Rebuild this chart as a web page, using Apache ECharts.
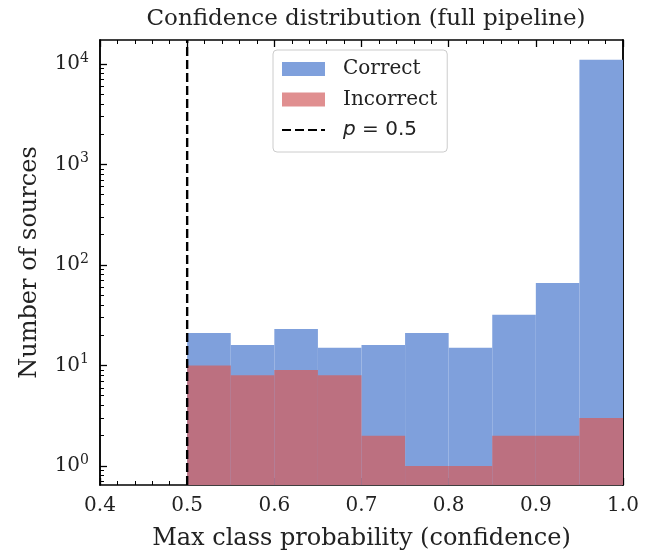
<!DOCTYPE html>
<html>
<head>
<meta charset="utf-8">
<script src="https://cdn.jsdelivr.net/npm/echarts@6/dist/echarts.min.js"></script>
<style>
  html, body { margin: 0; padding: 0; background: #fff; }
  #main { width: 654px; height: 551px; }
</style>
</head>
<body>
<div id="main"></div>
<script>
// histogram bins (confidence), 0.05 wide
const binEdges = [0.5, 0.55, 0.6, 0.65, 0.7, 0.75, 0.8, 0.85, 0.9, 0.95, 1.0];
const correctCounts = [21, 16, 23, 15, 16, 21, 15, 32, 66, 11000];
const incorrectCounts = [10, 8, 9, 8, 2, 1, 1, 2, 2, 3];
const threshold = 0.5;
const yMajorTicks = [1, 10, 100, 1000, 10000];
const yMinorTicks = [0.7, 0.8, 0.9, 2, 3, 4, 5, 6, 7, 8, 9, 20, 30, 40, 50, 60, 70, 80, 90,
  200, 300, 400, 500, 600, 700, 800, 900, 2000, 3000, 4000, 5000, 6000, 7000, 8000, 9000];

const X_MIN = 0.4, X_MAX = 1.0;
const Y_MIN = 0.647, Y_MAX = 17300;
const serif = 'DejaVu Serif';

function binData(counts) {
    let out = [];
    for (let i = 0; i < counts.length; i++) {
        out.push([binEdges[i], binEdges[i + 1], counts[i]]);
    }
    return out;
}

function renderHist(params, api) {
    let x0 = api.value(0), x1 = api.value(1), v = api.value(2);
    let p0 = api.coord([x0, v]);
    let p1 = api.coord([x1, v]);
    let bottom = params.coordSys.y + params.coordSys.height;
    return {
        type: 'rect',
        shape: { x: p0[0], y: p0[1], width: p1[0] - p0[0], height: bottom - p0[1] },
        style: api.style()
    };
}

function sup(v) {
    let e = Math.round(Math.log10(v));
    return '{b|10}{s|' + e + '}';
}

function yAxisOf(position, ticks, len, withLabels) {
    return {
        type: 'log',
        logBase: 10,
        position: position,
        min: Y_MIN,
        max: Y_MAX,
        axisLine: { show: true, lineStyle: { color: '#000', width: 1.5 } },
        splitLine: { show: false },
        axisTick: { show: true, inside: true, length: len, customValues: ticks,
            lineStyle: { color: '#000', width: len > 5 ? 1.3 : 1 } },
        minorTick: { show: false },
        axisLabel: withLabels ? {
            show: true,
            customValues: yMajorTicks,
            margin: 11,
            formatter: sup,
            rich: {
                b: { fontFamily: serif, fontSize: 20, color: '#222' },
                s: { fontFamily: serif, fontSize: 14, color: '#222', verticalAlign: 'bottom', padding: [0, 0, 12, 0] }
            }
        } : { show: false },
        name: withLabels ? 'Number of sources' : '',
        nameLocation: 'middle',
        nameGap: 58,
        nameTextStyle: { fontFamily: serif, fontSize: 24, color: '#222' }
    };
}

function xAxisOf(position, withLabels) {
    return {
        type: 'value',
        position: position,
        min: X_MIN,
        max: X_MAX,
        interval: 0.1,
        axisLine: { show: true, lineStyle: { color: '#000', width: 1.5 } },
        splitLine: { show: false },
        axisTick: { show: true, inside: true, length: 7, lineStyle: { color: '#000', width: 1.3 } },
        minorTick: { show: true, splitNumber: 5, length: 4, lineStyle: { color: '#000', width: 1 } },
        axisLabel: withLabels ? {
            show: true, margin: 11, fontFamily: serif, fontSize: 20, color: '#222',
            formatter: v => v.toFixed(1)
        } : { show: false },
        name: withLabels ? 'Max class probability (confidence)' : '',
        nameLocation: 'middle',
        nameGap: 42,
        nameTextStyle: { fontFamily: serif, fontSize: 24, color: '#222' }
    };
}

let option = {
    backgroundColor: '#fff',
    animation: false,
    title: {
        text: 'Confidence distribution (full pipeline)',
        left: 361, textAlign: 'center', top: 3,
        textStyle: { fontFamily: serif, fontSize: 23, fontWeight: 'normal', color: '#222' }
    },
    grid: { left: 100, right: 31, top: 40, bottom: 66, outerBoundsMode: 'none' },
    legend: {
        orient: 'vertical',
        left: 273,
        top: 50,
        padding: [9, 10, 12, 8],
        itemWidth: 43,
        itemHeight: 14,
        itemGap: 10.5,
        backgroundColor: 'rgba(255,255,255,0.85)',
        borderColor: '#cccccc',
        borderWidth: 1,
        borderRadius: 4,
        data: [
            { name: 'Correct', icon: 'rect' },
            { name: 'Incorrect', icon: 'rect', itemStyle: { color: '#e08f90' } },
            { name: 'p05', itemStyle: { color: 'rgba(0,0,0,0)', borderWidth: 0, opacity: 0 } }
        ],
        formatter: function (name) {
            if (name === 'p05') return '{i|p}{n| = 0.5}';
            return name;
        },
        textStyle: {
            fontFamily: serif, fontSize: 20, lineHeight: 20, color: '#222', padding: [0, 0, 0, 13],
            rich: {
                i: { fontFamily: 'DejaVu Sans', fontStyle: 'italic', fontSize: 20, color: '#222' },
                n: { fontFamily: 'DejaVu Sans', fontSize: 20, color: '#222' }
            }
        }
    },
    xAxis: [xAxisOf('bottom', true), xAxisOf('top', false)],
    yAxis: [
        yAxisOf('left', yMajorTicks, 7, true),
        yAxisOf('left', yMinorTicks, 4, false),
        yAxisOf('right', yMajorTicks, 7, false),
        yAxisOf('right', yMinorTicks, 4, false)
    ],
    series: [
        {
            name: 'Correct',
            type: 'custom',
            renderItem: renderHist,
            xAxisIndex: 0, yAxisIndex: 0,
            encode: { x: [0, 1], y: 2 },
            itemStyle: { color: '#7fa0dc' },
            data: binData(correctCounts)
        },
        {
            name: 'Incorrect',
            type: 'custom',
            renderItem: renderHist,
            xAxisIndex: 0, yAxisIndex: 0,
            encode: { x: [0, 1], y: 2 },
            itemStyle: { color: '#bc7080' },
            data: binData(incorrectCounts)
        },
        {
            name: 'p05',
            type: 'line',
            xAxisIndex: 0, yAxisIndex: 0,
            symbol: 'none',
            z: 5,
            lineStyle: { color: '#000', width: 2.4, type: [9, 4] },
            itemStyle: { color: '#000' },
            data: [[threshold, Y_MIN], [threshold, Y_MAX]]
        }
    ]
};

let myChart = echarts.init(document.getElementById('main'));
myChart.setOption(option);
</script>
</body>
</html>
